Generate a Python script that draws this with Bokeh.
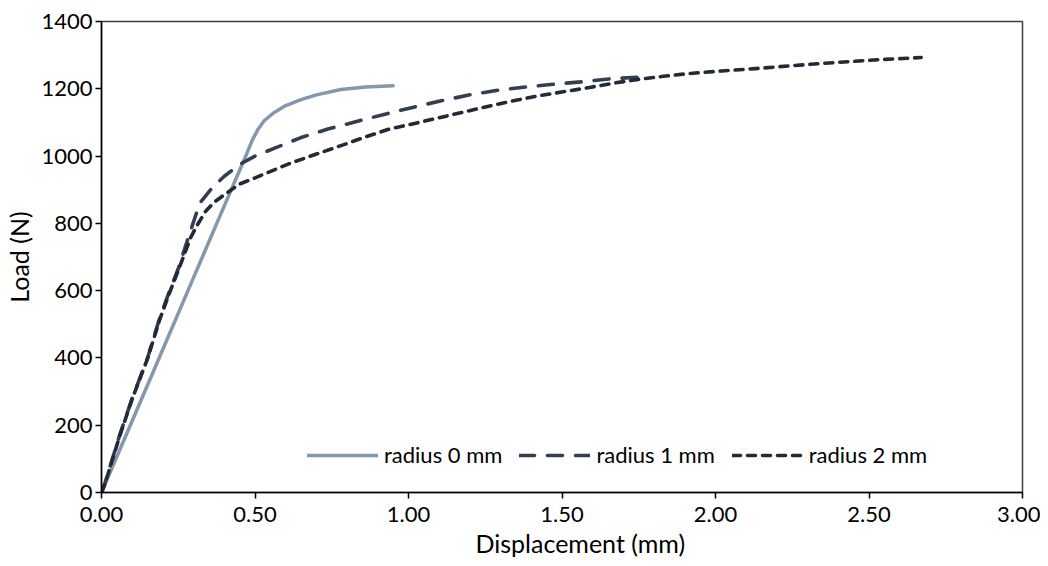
from bokeh.plotting import figure
from bokeh.models import FixedTicker, NumeralTickFormatter, Range1d, Legend, LegendItem, Title
from bokeh.embed import file_html
from bokeh.resources import INLINE

# ---- data ----
x0 = [0, 0.06, 0.17, 0.29, 0.40, 0.45, 0.47, 0.49, 0.51, 0.53, 0.56, 0.60, 0.65, 0.70, 0.78, 0.86, 0.95]
y0 = [0, 128, 362, 618, 852, 958, 1000, 1045, 1080, 1105, 1128, 1150, 1168, 1182, 1198, 1205, 1209]

x1 = [0, 0.01, 0.06, 0.10, 0.15, 0.19, 0.22, 0.25, 0.28, 0.32, 0.36, 0.40, 0.45, 0.50, 0.56,
      0.65, 0.74, 0.84, 0.93, 1.02, 1.11, 1.20, 1.30, 1.40, 1.49, 1.58, 1.66, 1.76]
y1 = [0, 24, 173, 280, 400, 520, 595, 665, 750, 860, 905, 940, 975, 1000, 1022,
      1055, 1081, 1105, 1126, 1146, 1165, 1182, 1197, 1207, 1215, 1222, 1230, 1235]

x2 = [0, 0.01, 0.06, 0.10, 0.15, 0.19, 0.22, 0.25, 0.29, 0.31, 0.34, 0.37, 0.40, 0.45, 0.50,
      0.61, 0.70, 0.78, 0.86, 0.94, 1.02, 1.10, 1.19, 1.27, 1.35, 1.43, 1.51, 1.59, 1.67,
      1.75, 1.83, 1.91, 2.02, 2.13, 2.24, 2.34, 2.44, 2.54, 2.61, 2.67]
y2 = [0, 22, 170, 278, 398, 515, 590, 660, 757, 792, 837, 865, 885, 917, 935,
      977, 1006, 1031, 1057, 1081, 1097, 1114, 1133, 1150, 1166, 1180, 1192, 1204, 1217,
      1228, 1237, 1245, 1253, 1260, 1268, 1275, 1281, 1287, 1290, 1293]

labels = ["radius 0 mm", "radius 1 mm", "radius 2 mm"]
x_ticks = [0, 0.5, 1.0, 1.5, 2.0, 2.5, 3.0]
y_ticks = [0, 200, 400, 600, 800, 1000, 1200, 1400]
x_title = "Displacement (mm)"
y_title = "Load (N)"

FONT = "Lato"

p = figure(width=1040, height=566, output_backend="svg", toolbar_location=None,
           x_range=Range1d(0, 3), y_range=Range1d(0, 1400),
           min_border_left=101, min_border_right=18, min_border_top=21, min_border_bottom=74)
p.xgrid.visible = False
p.ygrid.visible = False
p.outline_line_color = "#404040"
p.outline_line_width = 1.5
p.background_fill_color = "white"
p.border_fill_color = "white"

r0 = p.line(x0, y0, line_color="#8497B0", line_width=3.5, line_cap="round", line_join="round")
r1 = p.line(x1, y1, line_color="#333F50", line_width=3.6, line_dash="15 13", line_cap="round", line_join="round")
r2 = p.line(x2, y2, line_color="#222A35", line_width=3.6, line_dash="8 7", line_cap="round", line_join="round")

for ax in (p.xaxis[0], p.yaxis[0]):
    ax.axis_line_color = "black"
    ax.axis_line_width = 1.5
    ax.major_tick_line_color = "black"
    ax.major_tick_line_width = 1.5
    ax.major_tick_out = 6
    ax.major_tick_in = 0
    ax.minor_tick_line_color = None
    ax.major_label_text_font = FONT
    ax.major_label_text_font_size = "22px"
    ax.major_label_text_color = "black"
    ax.axis_label_text_font = FONT
    ax.axis_label_text_font_size = "25px"
    ax.axis_label_text_font_style = "normal"
    ax.axis_label_text_color = "black"

p.xaxis.ticker = FixedTicker(ticks=x_ticks)
p.yaxis.ticker = FixedTicker(ticks=y_ticks)
p.xaxis.formatter = NumeralTickFormatter(format="0.00")
p.yaxis.formatter = NumeralTickFormatter(format="0")
p.yaxis.axis_label = y_title
p.xaxis.major_label_standoff = 8
p.yaxis.major_label_standoff = 3
p.yaxis.axis_label_standoff = 4

# x-axis title, placed slightly right of centre as in the reference
p.add_layout(Title(text=x_title, align="left", offset=374, standoff=2,
                   text_font=FONT, text_font_size="25px", text_font_style="normal",
                   text_color="black"), "below")

legend = Legend(items=[LegendItem(label=labels[0], renderers=[r0]),
                       LegendItem(label=labels[1], renderers=[r1]),
                       LegendItem(label=labels[2], renderers=[r2])],
                orientation="horizontal", location=(206, 24))
legend.border_line_color = None
legend.background_fill_alpha = 0
legend.padding = 0
legend.margin = 0
legend.spacing = 17
legend.glyph_width = 71
legend.glyph_height = 26
legend.label_height = 26
legend.label_standoff = 6
legend.label_text_font = FONT
legend.label_text_font_size = "22px"
legend.label_text_color = "black"
p.add_layout(legend, "center")

open("out.html", "w").write(file_html(p, INLINE))
